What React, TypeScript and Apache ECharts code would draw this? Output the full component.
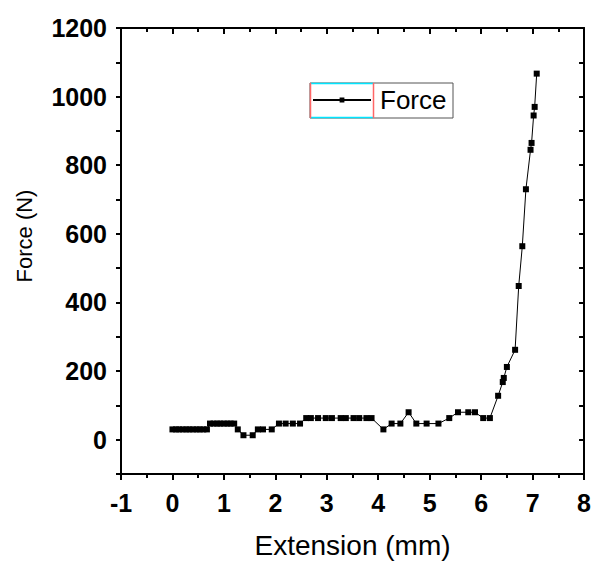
import React, { useEffect, useRef } from "react";
import * as echarts from "echarts";

const extension = [
  0, 0.07, 0.13, 0.2, 0.27, 0.33, 0.4, 0.47, 0.53, 0.6, 0.67,
  0.73, 0.8, 0.87, 0.93, 1.0, 1.07, 1.13, 1.2,
  1.27, 1.38, 1.56, 1.66, 1.76, 1.93,
  2.07, 2.2, 2.34, 2.48,
  2.6, 2.69, 2.83, 2.98, 3.1, 3.27, 3.37, 3.52, 3.63, 3.77, 3.87,
  4.1, 4.26, 4.43, 4.59, 4.74, 4.94, 5.17, 5.38, 5.55, 5.75, 5.88, 6.04, 6.17,
  6.33, 6.42, 6.44, 6.5, 6.66, 6.73, 6.8, 6.87, 6.96, 6.98, 7.02, 7.04, 7.08,
];
const force = [
  30, 30, 30, 30, 30, 30, 30, 30, 30, 30, 30,
  47, 47, 47, 47, 47, 47, 47, 47,
  30, 13, 13, 30, 30, 30,
  47, 47, 47, 47,
  63, 63, 63, 63, 63, 63, 63, 63, 63, 63, 63,
  30, 47, 47, 80, 47, 47, 47, 63, 80, 80, 80, 63, 63,
  128, 168, 180, 212, 262, 448, 564, 730, 845, 865, 945, 970, 1067,
];
const yLabelStep = 200;
const seriesName = "Force";
const xTitle = "Extension (mm)";
const yTitle = "Force (N)";

export default function App() {
  const ref = useRef<HTMLDivElement>(null);
  useEffect(() => {
    if (!ref.current) return;
    const chart = echarts.init(ref.current, null, { renderer: "svg" });
    const font = "'Liberation Sans', Arial, sans-serif";
    const data = extension.map((x, i) => [x, force[i]]);
    const black = { color: "#000", width: 2 };
    chart.setOption({
      animation: false,
      backgroundColor: "#ffffff",
      grid: { left: 121, right: 8, top: 28, bottom: 88, containLabel: false },
      legend: {
        data: [seriesName],
        left: 312,
        top: 87,
        itemWidth: 58,
        itemHeight: 6,
        itemGap: 0,
        padding: 0,
        textStyle: { fontFamily: font, fontSize: 26, color: "#000", padding: [0, 0, 0, 4] },
      },
      xAxis: [
        {
          type: "value",
          min: -1,
          max: 8,
          interval: 1,
          position: "bottom",
          name: xTitle,
          nameLocation: "middle",
          nameGap: 57,
          nameTextStyle: { fontFamily: font, fontSize: 28, color: "#000" },
          axisLine: { onZero: false, lineStyle: black },
          axisTick: { inside: false, length: 6, lineStyle: black },
          minorTick: { show: true, splitNumber: 2, length: 4, lineStyle: black },
          axisLabel: { fontFamily: font, fontSize: 25, fontWeight: "bold", color: "#000", margin: 16 },
          splitLine: { show: false },
        },
        {
          type: "value",
          min: -1,
          max: 8,
          interval: 1,
          position: "top",
          axisLine: { onZero: false, lineStyle: black },
          axisTick: { inside: true, length: 6, lineStyle: black },
          minorTick: { show: true, splitNumber: 2, length: 4, lineStyle: black },
          axisLabel: { show: false },
          splitLine: { show: false },
        },
      ],
      yAxis: [
        {
          type: "value",
          min: -100,
          max: 1200,
          interval: 100,
          position: "left",
          name: yTitle,
          nameLocation: "middle",
          nameGap: 86,
          nameTextStyle: { fontFamily: font, fontSize: 22, color: "#000", padding: [0, 0, 0, 30] },
          axisLine: { onZero: false, lineStyle: black },
          axisTick: { inside: false, length: 5, lineStyle: black },
          axisLabel: {
            fontFamily: font,
            fontSize: 25,
            fontWeight: "bold",
            color: "#000",
            margin: 14,
            formatter: (v: number) => (v >= 0 && v % yLabelStep === 0 ? String(v) : ""),
          },
          splitLine: { show: false },
        },
        {
          type: "value",
          min: -100,
          max: 1200,
          interval: 100,
          position: "right",
          axisLine: { onZero: false, lineStyle: black },
          axisTick: { inside: true, length: 5, lineStyle: black },
          axisLabel: { show: false },
          splitLine: { show: false },
        },
      ],
      graphic: [
        { type: "rect", shape: { x: 310, y: 83, width: 143, height: 35 }, style: { fill: "none", stroke: "#555", lineWidth: 1 }, z: 10 },
        { type: "line", shape: { x1: 311, y1: 83.5, x2: 373, y2: 83.5 }, style: { stroke: "#00e5ff", lineWidth: 1.5 }, z: 11 },
        { type: "line", shape: { x1: 311, y1: 117.5, x2: 373, y2: 117.5 }, style: { stroke: "#00e5ff", lineWidth: 1.5 }, z: 11 },
        { type: "line", shape: { x1: 310.5, y1: 83, x2: 310.5, y2: 118 }, style: { stroke: "#ff6666", lineWidth: 1.5 }, z: 11 },
        { type: "line", shape: { x1: 373.5, y1: 83, x2: 373.5, y2: 118 }, style: { stroke: "#ff6666", lineWidth: 1.5 }, z: 11 },
      ],
      series: [
        {
          name: seriesName,
          type: "line",
          xAxisIndex: 0,
          yAxisIndex: 0,
          data,
          symbol: "rect",
          symbolSize: 6,
          lineStyle: { color: "#000", width: 1 },
          itemStyle: { color: "#000" },
        },
      ],
    });
    return () => chart.dispose();
  }, []);
  return <div ref={ref} style={{ position: "fixed", left: 0, top: 0, width: 594, height: 564 }} />;
}
